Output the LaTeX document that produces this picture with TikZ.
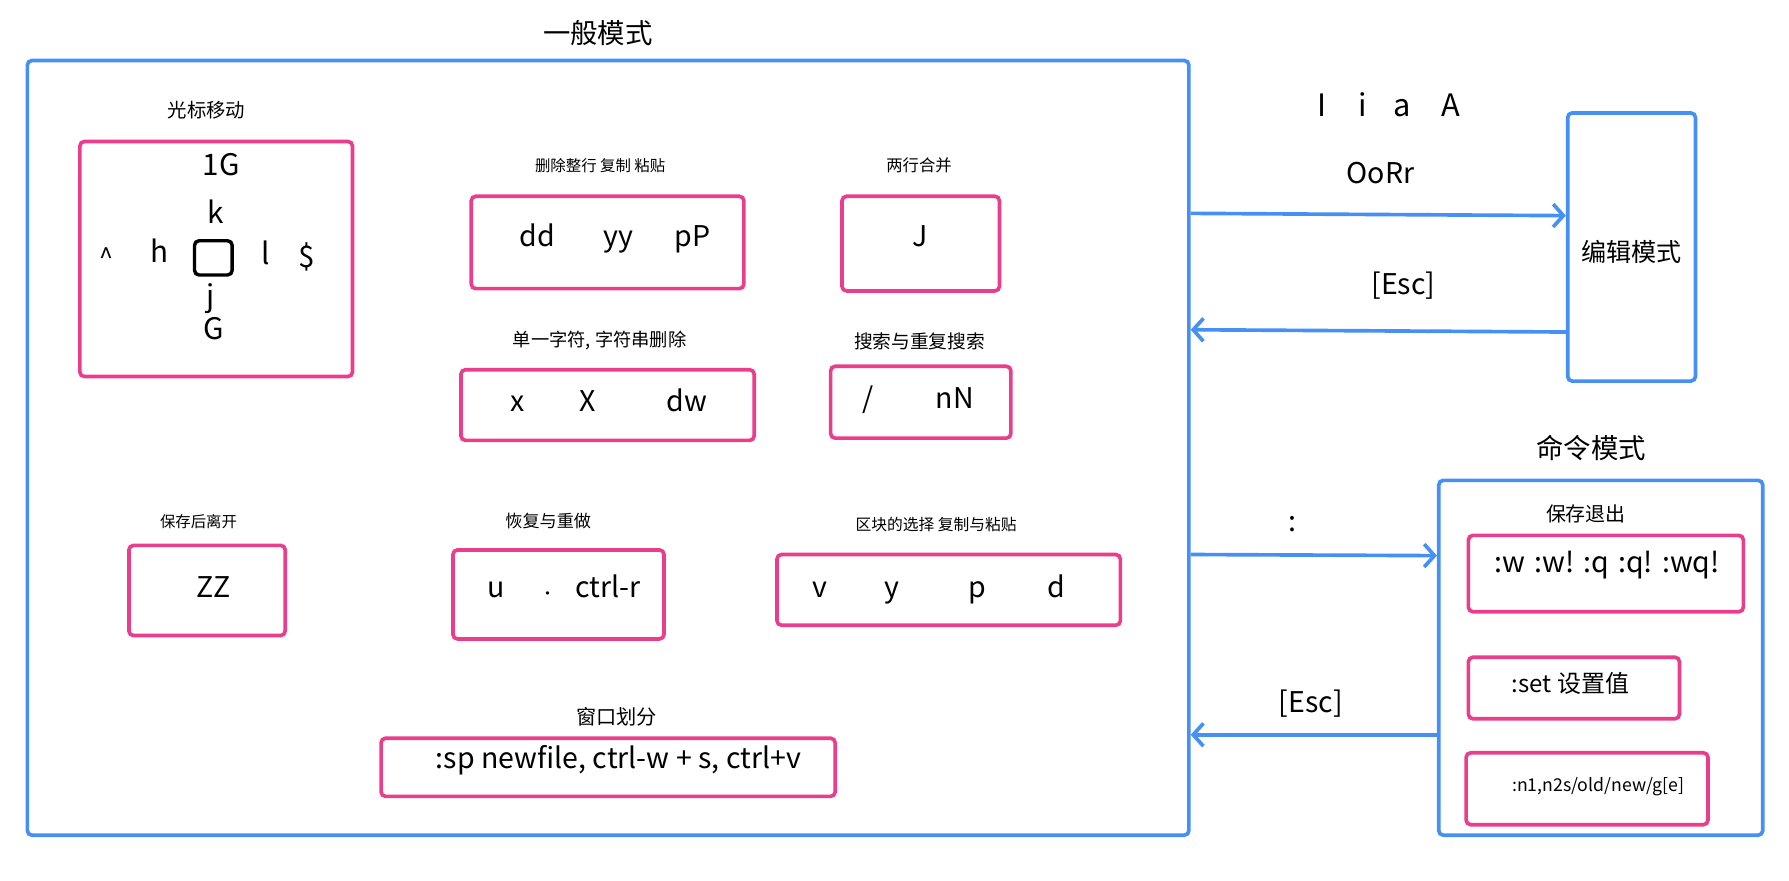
\documentclass[tikz,border=0pt]{standalone}
\usepackage{fontspec}
\setmainfont{Noto Sans CJK SC}
\usetikzlibrary{arrows.meta}
\definecolor{mblue}{RGB}{70,143,245}
\definecolor{mpink}{RGB}{234,62,140}
\newcommand\myfs[1]{\fontsize{#1}{#1}\selectfont}
\tikzset{
  bluebox/.style={draw=mblue,line width=3.2pt,rounded corners=4pt,rectangle,inner sep=0pt},
  pinkbox/.style={draw=mpink,line width=3.2pt,rounded corners=4pt,rectangle,inner sep=0pt},
  lbl/.style={inner sep=0pt,anchor=center,text height=0.72em,text depth=0.2em},
  conn/.style={draw=mblue,line width=3.2pt,-{Straight Barb[length=9pt,width=20pt,line width=3.2pt]}},
}
\begin{document}
\begin{tikzpicture}[x=1pt,y=-1pt]
\useasboundingbox (-2,-1) rectangle (1566,771);
% main
\node[bluebox,minimum width=1018pt,minimum height=679pt] (main) at (531,391.5) {};
\node[lbl] (tmain) at (522,34.5) {\myfs{24}一般模式};
% cursor
\node[lbl] (tcur) at (179,99) {\myfs{17}光标移动};
\node[pinkbox,minimum width=239pt,minimum height=206pt] (cur) at (187.5,226) {};
\node[lbl] (c1G) at (192,150) {\myfs{26}1G};
\node[lbl] (ck) at (187,192.5) {\myfs{26}k};
\node[draw=black,line width=3pt,rounded corners=4pt,minimum width=33pt,minimum height=30pt,inner sep=0pt] (cbox) at (185,225) {};
\node[inner sep=0pt] (chat) at (91,224.5) {\myfs{22}\^{}};
\node[lbl] (ch) at (138,226.2) {\myfs{26}h};
\node[lbl] (cl) at (231,228.5) {\myfs{26}l};
\node[lbl] (cdol) at (267,230.6) {\myfs{26}\$};
\node[lbl] (cj) at (183,265) {\myfs{26}j};
\node[lbl] (cG) at (185,294) {\myfs{26}G};
% dd
\node[lbl] (tdd) at (524,146.6) {\myfs{13.5}删除整行 复制 粘贴};
\node[pinkbox,minimum width=239pt,minimum height=81pt] (ddb) at (530.5,211.5) {};
\node[lbl] (dd) at (469,212.8) {\myfs{25}dd};
\node[lbl] (yy) at (540,212.8) {\myfs{25}yy};
\node[lbl] (pP) at (605,212.8) {\myfs{25}pP};
% J
\node[lbl] (tJ) at (803.5,146.4) {\myfs{14.3}两行合并};
\node[pinkbox,minimum width=138pt,minimum height=83pt] (Jb) at (805,212.5) {};
\node[lbl] (J) at (804.5,212.2) {\myfs{25}J};
% x
\node[lbl] (tx) at (523.5,300.3) {\myfs{16}单一字符, 字符串删除};
\node[pinkbox,minimum width=257pt,minimum height=62pt] (xb) at (530.5,354) {};
\node[lbl] (x) at (452,356.8) {\myfs{25}x};
\node[lbl] (X) at (513,356.8) {\myfs{25}X};
\node[lbl] (dw) at (600,356.8) {\myfs{25}dw};
% search
\node[lbl] (ts) at (804,301.8) {\myfs{16.4}搜索与重复搜索};
\node[pinkbox,minimum width=158pt,minimum height=63pt] (sb) at (805,351.5) {};
\node[lbl] (sl) at (759,354) {\myfs{25}/};
\node[lbl] (nN) at (835,354.5) {\myfs{25}nN};
% ZZ
\node[lbl] (tZZ) at (172,458.6) {\myfs{13.5}保存后离开};
\node[pinkbox,minimum width=137pt,minimum height=79pt] (ZZb) at (179.5,516.5) {};
\node[lbl] (ZZ) at (185,520.5) {\myfs{25}ZZ};
% undo
\node[lbl] (tu) at (478.5,458.8) {\myfs{15}恢复与重做};
\node[pinkbox,minimum width=185pt,minimum height=78pt] (ub) at (487.5,520) {};
\node[lbl] (u) at (432.5,520.2) {\myfs{25}u};
\node[inner sep=0pt] (dot) at (478,521) {\myfs{14}·};
\node[lbl] (cr) at (531,520.2) {\myfs{25}ctrl-r};
% block
\node[lbl] (tv) at (818.5,461) {\myfs{13.8}区块的选择 复制与粘贴};
\node[pinkbox,minimum width=301pt,minimum height=62pt] (vb) at (829.5,516) {};
\node[lbl] (v) at (717,520.5) {\myfs{25}v};
\node[lbl] (y) at (780,520.5) {\myfs{25}y};
\node[lbl] (p) at (855,520.5) {\myfs{25}p};
\node[lbl] (d) at (924,520.5) {\myfs{25}d};
% window
\node[lbl] (tw) at (538.5,631.6) {\myfs{17.7}窗口划分};
\node[pinkbox,minimum width=398pt,minimum height=51pt] (wb) at (531,671.5) {};
\node[lbl] (w) at (540,670.1) {\myfs{25}:sp newfile, ctrl-w + s, ctrl+v};
% edit mode
\node[bluebox,minimum width=112pt,minimum height=235pt] (edit) at (1428,215.5) {};
\node[lbl] (tedit) at (1428,226) {\myfs{22}编辑模式};
\node[lbl] (I) at (1157,98.3) {\myfs{27}I};
\node[lbl] (i) at (1192,98.3) {\myfs{27}i};
\node[lbl] (a) at (1227,98.3) {\myfs{27}a};
\node[lbl] (A) at (1270,98.3) {\myfs{27}A};
\node[lbl] (oorr) at (1208,157.1) {\myfs{25}OoRr};
\node[lbl] (esc1) at (1228,254.8) {\myfs{25}[Esc]};
\draw[conn] (main.east |- 0,186) -- (edit.west |- 0,188);
\draw[conn] (edit.west |- 0,290) -- (main.east |- 0,288);
% command mode
\node[lbl] (tcmd) at (1392.5,398) {\myfs{24}命令模式};
\node[bluebox,minimum width=284pt,minimum height=311pt] (cmd) at (1401,575.5) {};
\node[lbl] (col) at (1131,462) {\myfs{25}:};
\node[lbl] (tsave) at (1388,453.5) {\myfs{17.5}保存退出};
\node[pinkbox,minimum width=241pt,minimum height=67pt] (saveb) at (1405.5,501.7) {};
\node[lbl] (save) at (1406.6,498.5) {\myfs{25}:w\hspace{8pt}:w!\hspace{8pt}:q\hspace{8pt}:q!\hspace{8pt}:wq!};
\node[pinkbox,minimum width=185pt,minimum height=54pt] (setb) at (1377.5,602) {};
\node[lbl] (set) at (1374.5,603) {\myfs{21}:set 设置值};
\node[pinkbox,minimum width=212pt,minimum height=63pt] (subb) at (1389,690.3) {};
\node[lbl] (sub) at (1399,689.7) {\myfs{15.5}:n1,n2s/old/new/g[e]};
\node[lbl] (esc2) at (1147,621.1) {\myfs{25}[Esc]};
\draw[conn] (main.east |- 0,485) -- (cmd.west |- 0,486);
\draw[conn] (cmd.west |- 0,643) -- (main.east |- 0,643);
\end{tikzpicture}
\end{document}
